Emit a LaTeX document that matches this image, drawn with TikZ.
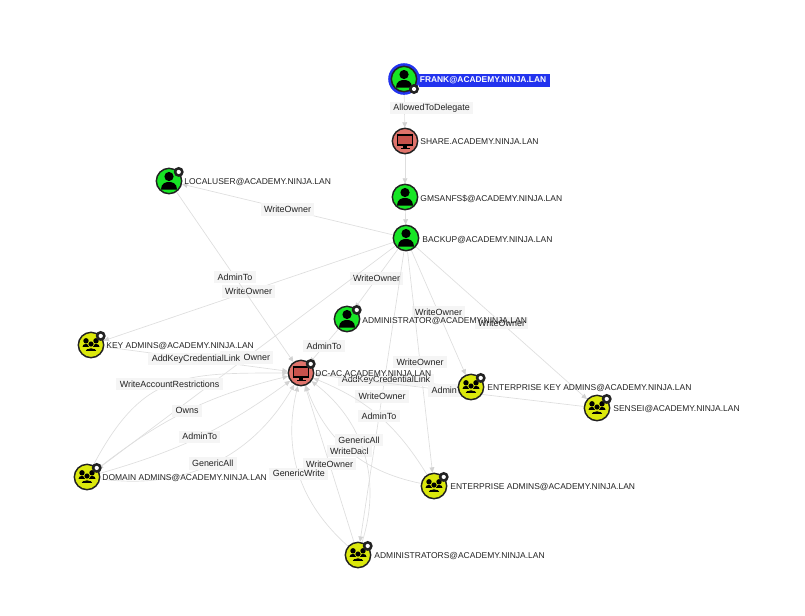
\documentclass[tikz,border=0pt]{standalone}
\usepackage{fontspec}
\setmainfont{Liberation Sans}
\usetikzlibrary{arrows.meta,backgrounds}
\definecolor{usergreen}{HTML}{17E625}
\definecolor{hostred}{HTML}{E0736B}
\definecolor{screenred}{HTML}{C8524C}
\definecolor{groupyellow}{HTML}{DBE80C}
\definecolor{edgegrey}{HTML}{DEDEDE}
\definecolor{tipgrey}{HTML}{D2D2D2}
\definecolor{lblgrey}{HTML}{F5F5F5}
\definecolor{frankblue}{HTML}{2233EE}
\definecolor{inkgrey}{HTML}{222222}
\tikzset{
	basenode/.style={circle,draw=inkgrey,line width=1.1pt,minimum size=19pt,inner sep=0pt},
	usernode/.style={basenode,fill=usergreen},
	hostnode/.style={basenode,fill=hostred},
	groupnode/.style={basenode,fill=groupyellow},
	namelbl/.style={anchor=west,inner sep=0.6pt,xshift=-0.5pt,yshift=-0.7pt,font=\fontsize{6.36}{7}\selectfont,text=inkgrey},
	edgelbl/.style={fill=lblgrey,inner xsep=2.5pt,inner ysep=1.6pt,minimum height=9.2pt,font=\fontsize{6.7}{7}\selectfont,text=inkgrey},
	link/.style={draw=edgegrey,line width=0.5pt,-{Triangle[length=4pt,width=3.6pt,color=tipgrey]}},
	usericon/.pic={
		\fill[black] (0,-4.5) circle [radius=4.6];
		\fill[black] (-8,8.5) .. controls (-8,2) and (-3,1) .. (0,1) .. controls (3,1) and (8,2) .. (8,8.5) -- cycle;
	},
	groupicon/.pic={
		\fill[black] (-5,-4.2) circle [radius=2.7];
		\fill[black] (5,-4.2) circle [radius=2.7];
		\fill[black] (-8.5,1.8) .. controls (-8.5,-2) and (-2,-2) .. (-1.5,1.8) -- cycle;
		\fill[black] (8.5,1.8) .. controls (8.5,-2) and (2,-2) .. (1.5,1.8) -- cycle;
		\fill[black,draw=groupyellow,line width=0.4pt] (0,-1) circle [radius=3];
		\fill[black,draw=groupyellow,line width=0.4pt] (-6.3,6.5) .. controls (-6.3,1.5) and (6.3,1.5) .. (6.3,6.5) -- cycle;
	},
	hosticon/.pic={
		\fill[black] (-8.3,-7) rectangle (8.3,4.5);
		\fill[screenred] (-6.7,-5.4) rectangle (6.7,2.8);
		\fill[black] (-2,4.5) rectangle (2,6.5);
		\fill[black] (-4.5,6.5) rectangle (4.5,8);
	},
	badge/.pic={
		\fill[inkgrey] (0,0) circle [radius=5];
		\fill[white] (0,0) circle [radius=2.1];
	},
}

\begin{document}
\begin{tikzpicture}[x=0.75pt,y=-0.75pt]
	\useasboundingbox (0,0) rectangle (805,615);
	% frank ring first, it sits behind his icon
	\fill[frankblue] (404,79) circle [radius=15.8];
	\node[usernode] (frank) at (404,79) {};
	\node[hostnode] (share) at (405,141) {};
	\node[usernode] (gmsa) at (405,197) {};
	\node[usernode] (backup) at (406,238) {};
	\node[usernode] (localuser) at (169,181) {};
	\node[usernode] (administrator) at (347,319) {};
	\node[groupnode] (keyadmins) at (91,345) {};
	\node[hostnode] (dcac) at (301,373) {};
	\node[groupnode] (domainadmins) at (87,477) {};
	\node[groupnode] (entkey) at (471,387) {};
	\node[groupnode] (sensei) at (597,408) {};
	\node[groupnode] (entadmins) at (434,486) {};
	\node[groupnode] (administrators) at (358,555) {};

	\foreach \who in {frank,gmsa,backup,localuser,administrator}
		\pic at (\who) {usericon};
	\foreach \who in {share,dcac}
		\pic at (\who) {hosticon};
	\foreach \who in {keyadmins,domainadmins,entkey,sensei,entadmins,administrators}
		\pic at (\who) {groupicon};
	\foreach \who in {localuser,administrator,keyadmins,dcac,domainadmins,entkey,sensei,entadmins,administrators}
		\pic at ([xshift=7.3pt,yshift=6.8pt]\who.center) {badge};
	\pic at ([xshift=7.5pt,yshift=-7.5pt]frank.center) {badge};

	\begin{scope}[on background layer]
		\draw[link] (frank) -- node[edgelbl,xshift=20.3pt,yshift=1.5pt] (lblframk) {AllowedToDelegate} (share);
		\draw[link] (share) -- (gmsa);
		\draw[link] (gmsa) -- (backup);
		\foreach \target in {localuser,administrator,keyadmins,domainadmins,entkey,sensei,entadmins,administrators}
			\draw[link] (backup) -- node[edgelbl] {WriteOwner} (\target);
		\draw[link] (localuser) -- node[edgelbl] (lblLocal) {AdminTo} (dcac);
		\draw[link] (administrator) -- node[edgelbl] (lblAdmin) {AdminTo} (dcac);
		\draw[link] (keyadmins) -- node[edgelbl] (lblKey) {AddKeyCredentialLink} (dcac);
		\draw[link] (domainadmins) to[out=62,in=180,looseness=1.25] node[edgelbl] (lblRestrict) {WriteAccountRestrictions} (dcac);
		\draw[link] (domainadmins) to[bend left=12] node[edgelbl] (lblOwns) {Owns} (dcac);
		\draw[link] (domainadmins) to[bend right=10] node[edgelbl] (lblDomAdm) {AdminTo} (dcac);
		\draw[link] (domainadmins) to[bend right=34] node[edgelbl] (lblDomAll) {GenericAll} (dcac);
		\draw[link] (entkey) -- node[edgelbl] (lblEntKey) {AddKeyCredentialLink} (dcac);
		\draw[link] (sensei) -- node[edgelbl] (lblSensei) {AdminTo} (dcac);
		\draw[link] (entadmins) to[bend right=18] node[edgelbl] (lblEntAdm) {AdminTo} (dcac);
		\draw[link] (entadmins) to[bend left=29] node[edgelbl] (lblEntDacl) {WriteDacl} (dcac);
		\draw[link] (administrators) to[bend right=35] node[edgelbl,pos=.58] (lblAdmAll) {GenericAll} (dcac);
		\draw[link] (administrators) -- node[edgelbl] (lblAdmOwner) {WriteOwner} (dcac);
		\draw[link] (administrators) to[bend left=31] node[edgelbl] (lblAdmWrite) {GenericWrite} (dcac);
	\end{scope}

	\node[namelbl,fill=frankblue,text=white,font=\fontsize{6.3}{7}\selectfont\bfseries,text width=97pt,minimum height=10pt] (namefrank) at (419.5,79.5) {FRANK@ACADEMY.NINJA.LAN};
	\node[namelbl] (nameshare) at (420,141) {SHARE.ACADEMY.NINJA.LAN};
	\node[namelbl] (namegmsa) at (420,198) {GMSANFS\$@ACADEMY.NINJA.LAN};
	\node[namelbl] (namebackup) at (422,239) {BACKUP@ACADEMY.NINJA.LAN};
	\node[namelbl] (namelocal) at (184,181) {LOCALUSER@ACADEMY.NINJA.LAN};
	\node[namelbl] (nameadministrator) at (362,320) {ADMINISTRATOR@ACADEMY.NINJA.LAN};
	\node[namelbl] (namekey) at (106,345) {KEY ADMINS@ACADEMY.NINJA.LAN};
	\node[namelbl] (namedcac) at (315,373) {DC-AC.ACADEMY.NINJA.LAN};
	\node[namelbl] (namedomain) at (102,477) {DOMAIN ADMINS@ACADEMY.NINJA.LAN};
	\node[namelbl] (nameentkey) at (487,387) {ENTERPRISE KEY ADMINS@ACADEMY.NINJA.LAN};
	\node[namelbl] (namesensei) at (613,408) {SENSEI@ACADEMY.NINJA.LAN};
	\node[namelbl] (nameentadmins) at (450,486) {ENTERPRISE ADMINS@ACADEMY.NINJA.LAN};
	\node[namelbl] (nameadministrators) at (374,555) {ADMINISTRATORS@ACADEMY.NINJA.LAN};
\end{tikzpicture}
\end{document}
